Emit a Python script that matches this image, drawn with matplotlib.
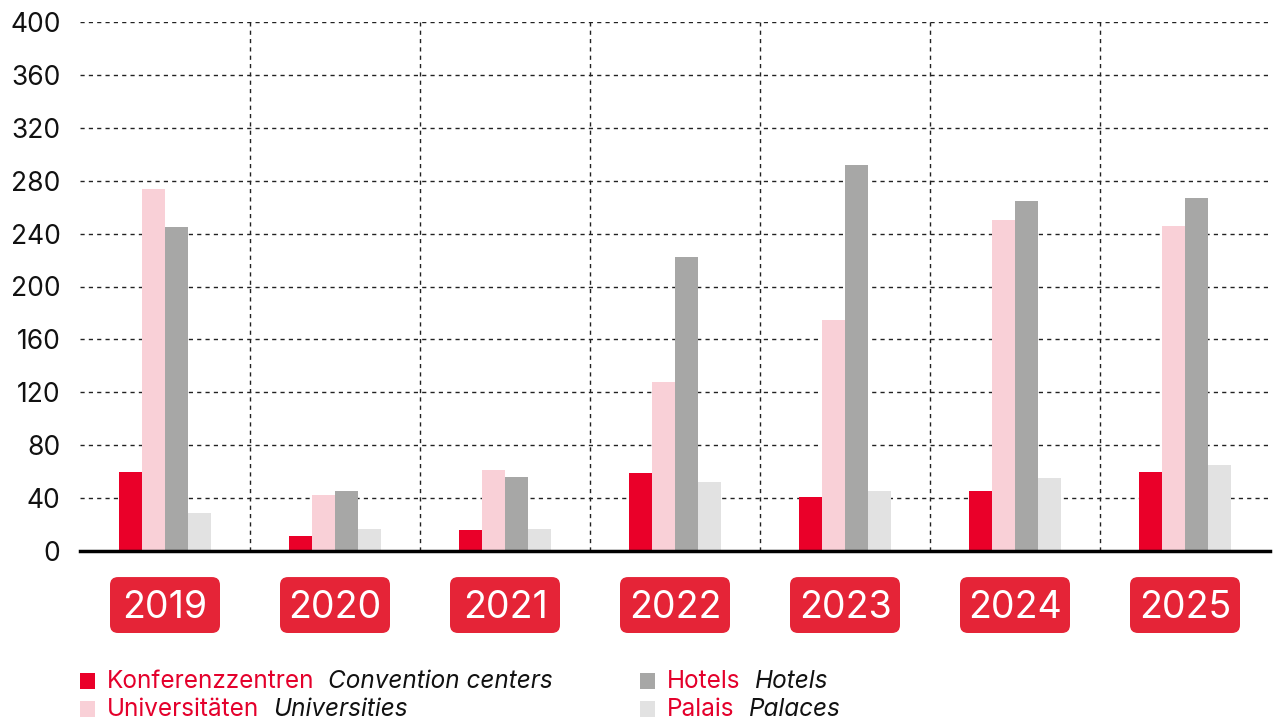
import numpy as np
import matplotlib
matplotlib.use("Agg")
import matplotlib.pyplot as plt
from matplotlib.patches import FancyBboxPatch, Rectangle

plt.rcParams['font.family'] = ['Inter', 'DejaVu Sans']

years = ['2019', '2020', '2021', '2022', '2023', '2024', '2025']
konferenz = [60, 11, 16, 59, 41, 45, 60]
universitaeten = [274, 42, 61, 128, 175, 250, 246]
hotels = [245, 45, 56, 222, 292, 265, 267]
palais = [29, 17, 17, 52, 45, 55, 65]

series_de = ['Konferenzzentren', 'Universitäten', 'Hotels', 'Palais']
series_en = ['Convention centers', 'Universities', 'Hotels', 'Palaces']
colors = ['#EA0029', '#F9D0D7', '#A7A7A6', '#E2E2E2']
red_text = '#E4002B'
badge_red = '#E52437'

W, H = 1274, 722
fig = plt.figure(figsize=(W / 100, H / 100), dpi=100)
ax = fig.add_axes([80 / W, 1 - 551 / H, 1190 / W, 529 / H])

x = np.arange(len(years))
w = 0.135
data = [konferenz, universitaeten, hotels, palais]
for i, (vals, c) in enumerate(zip(data, colors)):
    ax.bar(x + (i - 1.5) * w, vals, width=w, color=c, zorder=3)

ax.set_xlim(-0.5, len(years) - 0.5)
ax.set_ylim(0, 400)
ax.set_yticks(np.arange(0, 401, 40))
ax.set_xticks([])
ax.tick_params(axis='y', length=0, pad=14, labelsize=19, colors='#111111')

# dashed grid
for yv in np.arange(40, 401, 40):
    ax.axhline(yv, color='#222222', lw=1, dashes=(3, 3), zorder=1)
for xv in np.arange(0.5, len(years) - 1, 1):
    ax.axvline(xv, color='#222222', lw=1, dashes=(3, 3), zorder=1)

for s in ['left', 'right', 'top']:
    ax.spines[s].set_visible(False)
ax.spines['bottom'].set_linewidth(2.5)
ax.spines['bottom'].set_color('black')
ax.spines['bottom'].set_zorder(4)

# year badges below the axis
px_x = 1190 / len(years)
px_y = 529 / 400
bw = 110 / px_x
r = 8 / px_x
for xi, yr in zip(x, years):
    box = FancyBboxPatch((xi - bw / 2, -62), bw, 42.3,
                         boxstyle='round,pad=0,rounding_size=%f' % r,
                         mutation_aspect=px_x / px_y,
                         fc=badge_red, ec='none', clip_on=False, zorder=5)
    ax.add_patch(box)
    ax.text(xi, -43, yr, ha='center', va='center', color='white',
            fontsize=27, clip_on=False, zorder=6)

# legend
renderer = fig.canvas.get_renderer()
legend_pos = [(80, 681), (80, 709), (640, 681), (640, 709)]
for k, (lx, ly) in enumerate(legend_pos):
    fig.patches.append(Rectangle((lx / W, 1 - (ly + 8) / H), 15 / W, 16 / H,
                                 transform=fig.transFigure, fc=colors[k], ec='none'))
    t1 = fig.text((lx + 27) / W, 1 - ly / H, series_de[k], color=red_text,
                  fontsize=17.5, va='center', ha='left')
    bb = t1.get_window_extent(renderer)
    fig.text((bb.x1 + 14) / W, 1 - ly / H, series_en[k], color='#111111',
             fontsize=17.5, style='italic', va='center', ha='left')

fig.savefig('out.png', dpi=100)
